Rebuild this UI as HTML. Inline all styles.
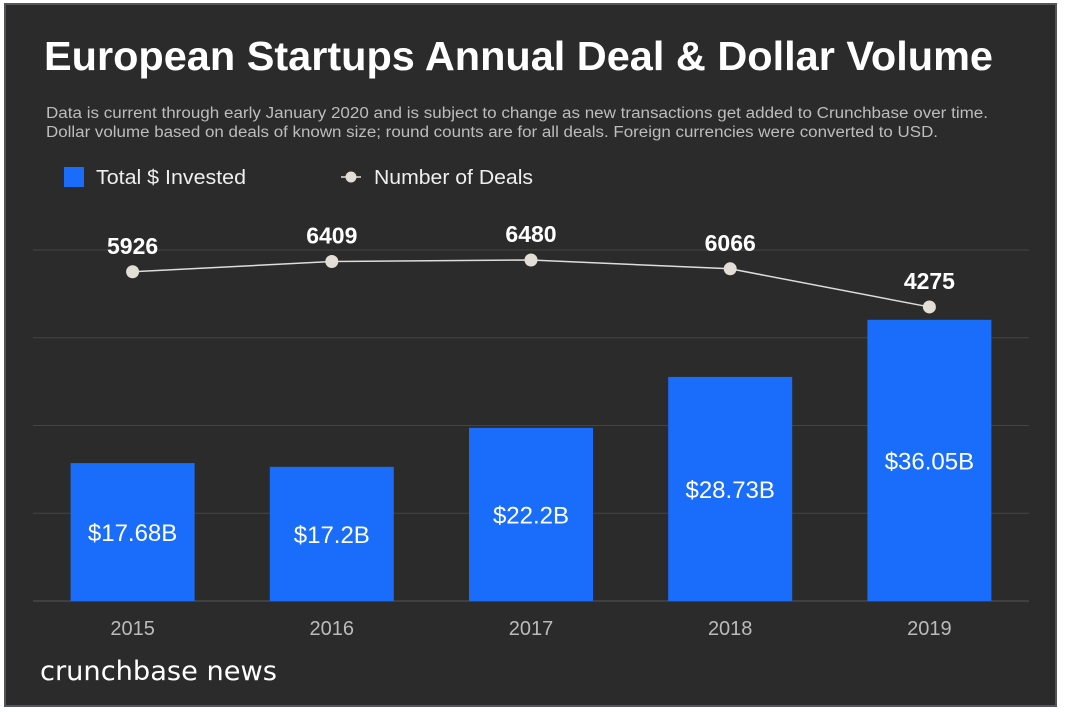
<!DOCTYPE html>
<html><head><meta charset="utf-8"><style>
html,body{margin:0;padding:0;background:#fff;}
body{width:1065px;height:717px;position:relative;overflow:hidden;font-family:"Liberation Sans",sans-serif;}
#frame{position:absolute;left:4px;top:3px;width:1049px;height:700px;background:#2b2b2b;border:2px solid #52565c;}
</style></head><body>
<div id="frame"></div>
<svg id="chart" width="1065" height="717" style="position:absolute;left:0;top:0">
<text x="44" y="70" fill="#fff" font-size="41" font-weight="bold" textLength="949" lengthAdjust="spacingAndGlyphs">European Startups Annual Deal &amp; Dollar Volume</text>
<text x="46" y="118" fill="#bdbdbd" font-size="15.5" textLength="942" lengthAdjust="spacingAndGlyphs">Data is current through early January 2020 and is subject to change as new transactions get added to Crunchbase over time.</text>
<text x="46" y="137" fill="#bdbdbd" font-size="15.5" textLength="892" lengthAdjust="spacingAndGlyphs">Dollar volume based on deals of known size; round counts are for all deals. Foreign currencies were converted to USD.</text>
<rect x="64" y="167" width="20" height="20" fill="#1a6dfa"/>
<text x="96" y="184" fill="#eee" font-size="20" textLength="150" lengthAdjust="spacingAndGlyphs">Total $ Invested</text>
<line x1="341" y1="177" x2="361" y2="177" stroke="#e3ded6" stroke-width="1.5"/>
<circle cx="351" cy="177" r="5.5" fill="#e3ded6"/>
<text x="374" y="184" fill="#eee" font-size="20" textLength="159" lengthAdjust="spacingAndGlyphs">Number of Deals</text>
<g id="grid"></g><g id="bars"></g><g id="line"></g>
<text x="40" y="680" fill="#fff" font-size="27" font-family="'DejaVu Sans',sans-serif" textLength="237" lengthAdjust="spacingAndGlyphs">crunchbase news</text>
</svg>
<script>
const years=["2015","2016","2017","2018","2019"];
const invested=[17.68,17.2,22.2,28.73,36.05];
const investedLabels=["$17.68B","$17.2B","$22.2B","$28.73B","$36.05B"];
const deals=[5926,6409,6480,6066,4275];
const NS="http://www.w3.org/2000/svg";
const X0=33,X1=1029,BASE=601,TOPY=250,MAXB=45;
const band=(X1-X0)/years.length;
const xc=i=>X0+band*(i+0.5);
const yB=v=>BASE-v/MAXB*(BASE-TOPY);
const yD=v=>398-v*0.0213;
function mk(t,a,p){const e=document.createElementNS(NS,t);for(const k in a)e.setAttribute(k,a[k]);p.appendChild(e);return e;}
const g=document.getElementById('grid'),b=document.getElementById('bars'),l=document.getElementById('line');
for(let i=0;i<5;i++){const y=TOPY+i*(BASE-TOPY)/4;
const ln=mk('line',{x1:X0,x2:X1,y1:y,y2:y,stroke:i==4?'#555':'#444','stroke-width':1},g);

}
years.forEach((yr,i)=>{
const y=yB(invested[i]);
const r=mk('rect',{x:xc(i)-62,y:y,width:124,height:BASE-y,fill:'#1a6dfa'},b);


const t=mk('text',{x:xc(i),y:(y+BASE)/2+9,fill:'#fff','font-size':24,'text-anchor':'middle'},b);t.textContent=investedLabels[i];


const xl=mk('text',{x:xc(i),y:635,fill:'#bbb','font-size':20,'text-anchor':'middle'},b);xl.textContent=yr;


});
const path=mk('polyline',{points:deals.map((d,i)=>xc(i)+','+yD(d)).join(' '),fill:'none',stroke:'#ddd','stroke-width':1.5},l);


deals.forEach((d,i)=>{
const c=mk('circle',{cx:xc(i),cy:yD(d),r:6.5,fill:'#e3ded6'},l);


const t=mk('text',{x:xc(i),y:yD(d)-18,fill:'#fff','font-size':23,'font-weight':'bold','text-anchor':'middle'},l);t.textContent=d;


});
</script>
</body></html>
